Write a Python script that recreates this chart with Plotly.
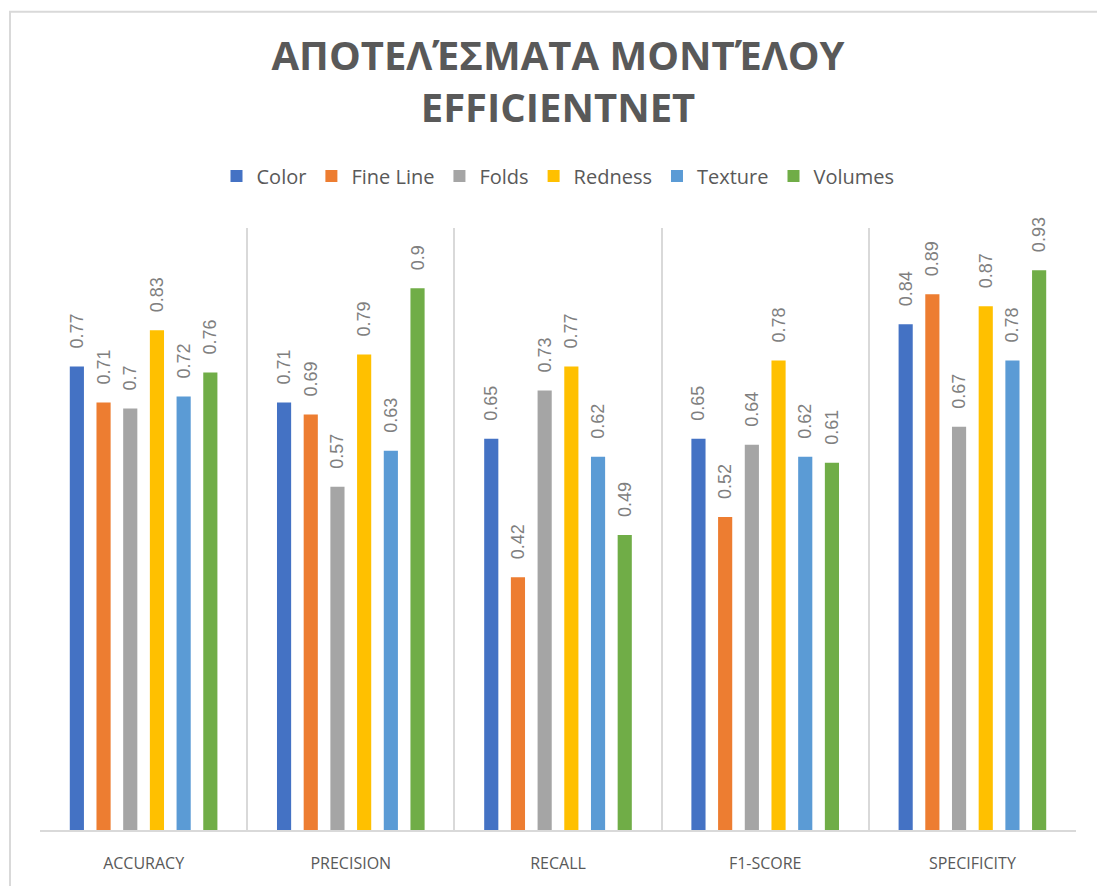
import plotly.graph_objects as go

categories = ["ACCURACY", "PRECISION", "RECALL", "F1-SCORE", "SPECIFICITY"]
series_names = ["Color", "Fine Line", "Folds", "Redness", "Texture", "Volumes"]
color_vals = [0.77, 0.71, 0.65, 0.65, 0.84]
fine_line_vals = [0.71, 0.69, 0.42, 0.52, 0.89]
folds_vals = [0.70, 0.57, 0.73, 0.64, 0.67]
redness_vals = [0.83, 0.79, 0.77, 0.78, 0.87]
texture_vals = [0.72, 0.63, 0.62, 0.62, 0.78]
volumes_vals = [0.76, 0.90, 0.49, 0.61, 0.93]
series_colors = ["#4472C4", "#ED7D31", "#A5A5A5", "#FFC000", "#5B9BD5", "#70AD47"]

all_vals = [color_vals, fine_line_vals, folds_vals, redness_vals, texture_vals, volumes_vals]

fig = go.Figure()
for name, vals, col in zip(series_names, all_vals, series_colors):
    fig.add_trace(go.Bar(
        x=categories, y=vals, name=name,
        marker=dict(color=col, line=dict(width=0)),
        texttemplate="\u00a0\u00a0\u00a0%{y}", textposition="outside",
        textangle=-90, cliponaxis=False, constraintext="none",
        textfont=dict(family="Liberation Sans, Arial, sans-serif", size=18, color="#7F7F7F"),
    ))

L, R, T, B = 40, 21, 228, 51
W, H = 1097, 886
pw, ph = W - L - R, H - T - B

fig.update_layout(
    width=W, height=H,
    margin=dict(l=L, r=R, t=T, b=B, pad=0),
    paper_bgcolor="white", plot_bgcolor="white",
    barmode="group", bargap=0.227, bargroupgap=0.47,
    title=dict(
        text="ΑΠΟΤΕΛΈΣΜΑΤΑ ΜΟΝΤΈΛΟΥ<br>EFFICIENTNET",
        x=0.5, xref="paper", xanchor="center",
        y=1 - 70 / H, yref="container", yanchor="middle",
        font=dict(family="Open Sans, sans-serif", size=40, color="#595959", weight="bold"),
    ),
    legend=dict(
        orientation="h", x=0.5, xanchor="center", xref="paper",
        y=1 - 176 / H, yref="container", yanchor="middle",
        font=dict(family="Open Sans, sans-serif", size=20, color="#595959"),
        itemclick=False, traceorder="normal", itemwidth=30,
    ),
    xaxis=dict(
        type="category", tickson="boundaries", showgrid=True,
        gridcolor="#D9D9D9", gridwidth=1.5,
        showline=True, linecolor="#D9D9D9", linewidth=2,
        ticks="", ticklabelstandoff=18,
        tickfont=dict(family="Open Sans, sans-serif", size=16, color="#595959"),
    ),
    yaxis=dict(range=[0, 1], showgrid=False, showticklabels=False,
               zeroline=False, showline=False, ticks=""),
    showlegend=True,
)

# outer chart border (partially outside the picture, as in the reference)
fig.add_shape(type="rect", xref="paper", yref="paper",
              x0=(10 - L) / pw, x1=(W + 10 - L) / pw,
              y0=-(B + 10) / ph, y1=1 + (T - 10) / ph,
              line=dict(color="#D9D9D9", width=2), layer="below")

fig.write_html("out.html", config={"displayModeBar": False},
               post_script="document.body.style.margin='0';document.body.style.overflow='hidden';")
